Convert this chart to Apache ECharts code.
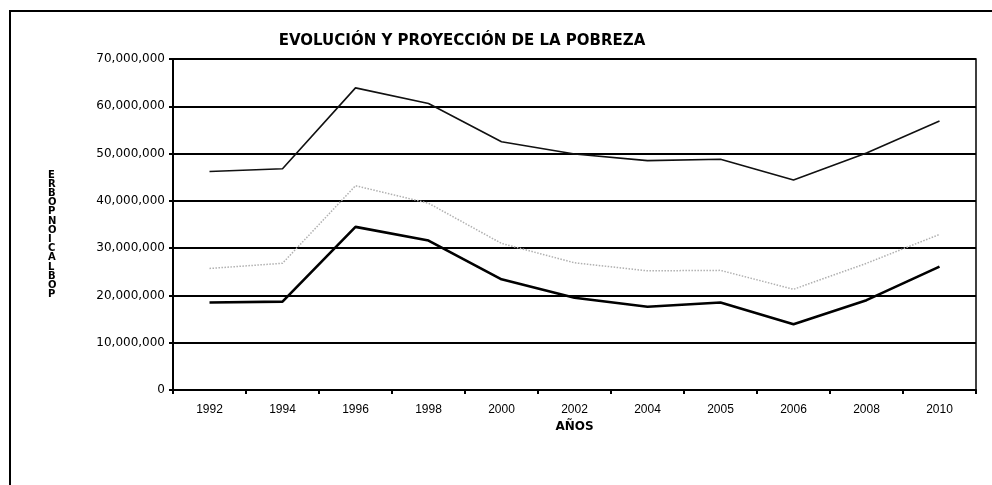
<!DOCTYPE html>
<html>
<head>
<meta charset="utf-8">
<script src="https://cdn.jsdelivr.net/npm/echarts@6/dist/echarts.min.js"></script>
<style>
  html, body { margin: 0; padding: 0; background: #fff; }
  #chart { width: 992px; height: 485px; }
</style>
</head>
<body>
<div id="chart"></div>
<script>
// categories and series
const years = ['1992', '1994', '1996', '1998', '2000', '2002', '2004', '2005', '2006', '2008', '2010']
const upperSeries = [46.2, 46.8, 63.9, 60.6, 52.5, 49.9, 48.5, 48.8, 44.4, 50.1, 56.9].map(v => v * 1e6)
const middleSeries = [25.7, 26.8, 43.2, 39.5, 31.0, 26.9, 25.2, 25.3, 21.3, 26.8, 32.9].map(v => v * 1e6)
const lowerSeries = [18.5, 18.7, 34.5, 31.6, 23.4, 19.5, 17.6, 18.5, 13.9, 19.0, 26.1].map(v => v * 1e6)

const yMin = 0
const yMax = 70000000
const yStep = 10000000

// stacked vertical axis title, as printed (reads upward)
const yLetters = 'ERBOPNOICALBOP'.split('')

const fmt = v => String(v).replace(/\B(?=(\d{3})+(?!\d))/g, ',')

const chart = echarts.init(document.getElementById('chart'))

chart.setOption({
  animation: false,
  backgroundColor: '#fff',
  title: {
    text: 'EVOLUCIÓN Y PROYECCIÓN DE LA POBREZA',
    left: 457,
    textAlign: 'center',
    top: 29,
    textStyle: {
      fontFamily: 'DejaVu Sans, sans-serif',
      fontSize: 15,
      fontWeight: 'bold',
      color: '#000'
    }
  },
  graphic: [
    {
      type: 'rect',
      shape: { x: 10, y: 11, width: 1100, height: 600 },
      style: { fill: 'none', stroke: '#000', lineWidth: 2 },
      silent: true
    },
    {
      type: 'text',
      left: 48,
      top: 170,
      style: {
        text: yLetters.join('\n'),
        fontFamily: 'DejaVu Sans, sans-serif',
        fontSize: 10,
        fontWeight: 'bold',
        lineHeight: 9.2,
        fill: '#000',
        align: 'center'
      }
    }
  ],
  grid: {
    left: 173,
    right: 16,
    top: 59,
    bottom: 95,
    show: true,
    borderColor: '#000',
    borderWidth: 1.5,
    backgroundColor: 'transparent'
  },
  xAxis: {
    type: 'category',
    data: years,
    boundaryGap: true,
    name: 'AÑOS',
    nameLocation: 'middle',
    nameGap: 28,
    nameTextStyle: {
      fontFamily: 'DejaVu Sans, sans-serif',
      fontSize: 12,
      fontWeight: 'bold',
      color: '#000'
    },
    axisLine: { lineStyle: { color: '#000', width: 2 } },
    axisTick: { show: true, length: 4, lineStyle: { color: '#000', width: 2 } },
    axisLabel: {
      margin: 14,
      fontFamily: 'Liberation Sans, Arial, sans-serif',
      fontSize: 12,
      color: '#000'
    },
    splitLine: { show: false }
  },
  yAxis: {
    type: 'value',
    min: yMin,
    max: yMax,
    interval: yStep,
    axisLine: { show: true, lineStyle: { color: '#000', width: 2 } },
    axisTick: { show: true, length: 4, lineStyle: { color: '#000', width: 2 } },
    axisLabel: {
      margin: 8,
      fontFamily: 'DejaVu Sans, sans-serif',
      fontSize: 12,
      color: '#000',
      formatter: fmt
    },
    splitLine: { show: true, lineStyle: { color: '#000', width: 2 } }
  },
  series: [
    {
      type: 'line',
      data: upperSeries,
      symbol: 'none',
      lineStyle: { color: '#111', width: 1.6 },
      z: 3
    },
    {
      type: 'line',
      data: middleSeries,
      symbol: 'none',
      lineStyle: { color: '#b0b0b0', width: 1.5, type: 'dotted' },
      z: 3
    },
    {
      type: 'line',
      data: lowerSeries,
      symbol: 'none',
      lineStyle: { color: '#000', width: 2.6 },
      z: 3
    }
  ]
})
</script>
</body>
</html>
